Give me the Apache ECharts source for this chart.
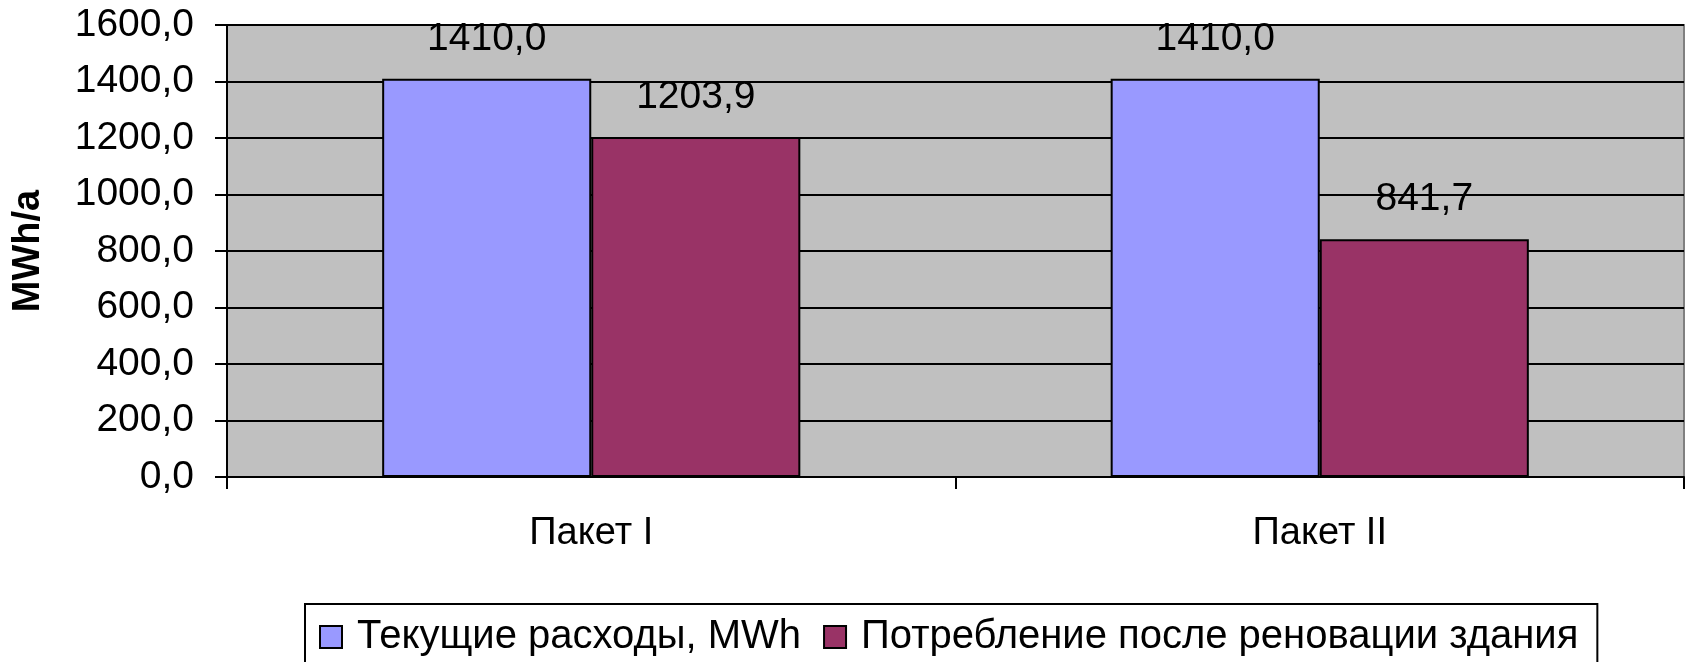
<!DOCTYPE html>
<html>
<head>
<meta charset="utf-8">
<title>MWh/a</title>
<script src="https://cdn.jsdelivr.net/npm/echarts@6/dist/echarts.min.js"></script>
<style>
  html, body { margin: 0; padding: 0; background: #fff; }
  #chart { width: 1694px; height: 662px; }
</style>
</head>
<body>
<div id="chart"></div>
<script>
// Categories and series values
const categories = ['Пакет I', 'Пакет II'];
const currentUse = [1410.0, 1410.0];
const afterRenovation = [1203.9, 841.7];
const seriesNames = ['Текущие расходы, MWh', 'Потребление после реновации здания'];
const yAxisName = 'MWh/a';

const FONT = '"Liberation Sans", Arial, sans-serif';
const fmt = v => v.toFixed(1).replace('.', ',');

const chart = echarts.init(document.getElementById('chart'), null, { renderer: 'canvas' });

const barLabel = {
  show: true,
  position: 'top',
  distance: 20,
  color: '#000',
  fontFamily: FONT,
  fontSize: 39,
  formatter: p => fmt(p.value)
};

chart.setOption({
  animation: false,
  backgroundColor: '#ffffff',
  grid: {
    left: 227, right: 10, top: 25, bottom: 185,
    containLabel: false,
    outerBoundsMode: 'none',
    show: true,
    backgroundColor: '#C0C0C0',
    borderColor: '#808080',
    borderWidth: 2
  },
  legend: {
    data: seriesNames,
    left: 305,
    top: 604,
    padding: [13, 19, 30, 14],
    itemGap: 22,
    itemWidth: 22,
    itemHeight: 22,
    borderColor: '#000',
    borderWidth: 2,
    textStyle: { fontFamily: FONT, fontSize: 40, color: '#000', padding: [0, 0, 0, 10] },
    icon: 'rect'
  },
  xAxis: {
    type: 'category',
    data: categories,
    boundaryGap: true,
    axisLine: { show: true, lineStyle: { color: '#000', width: 2 } },
    axisTick: { show: true, length: 12, interval: 0, lineStyle: { color: '#000', width: 2 } },
    axisLabel: { color: '#000', fontFamily: FONT, fontSize: 38, margin: 38 },
    splitLine: { show: false }
  },
  yAxis: {
    type: 'value',
    min: 0, max: 1600, interval: 200,
    name: yAxisName,
    nameLocation: 'middle',
    nameRotate: 90,
    nameGap: 179,
    nameTextStyle: { fontFamily: FONT, fontSize: 38, fontWeight: 'bold', color: '#000' },
    axisLine: { show: true, lineStyle: { color: '#000', width: 2 } },
    axisTick: { show: true, inside: false, length: 12, lineStyle: { color: '#000', width: 2 } },
    axisLabel: { color: '#000', fontFamily: FONT, fontSize: 39, margin: 33, formatter: v => fmt(v) },
    splitLine: { show: true, lineStyle: { color: '#000', width: 2 } }
  },
  series: [
    {
      name: seriesNames[0],
      type: 'bar',
      data: currentUse,
      barGap: '0%',
      barCategoryGap: '42.6%',
      itemStyle: { color: '#9999FF', borderColor: '#000', borderWidth: 2 },
      label: barLabel
    },
    {
      name: seriesNames[1],
      type: 'bar',
      data: afterRenovation,
      itemStyle: { color: '#993366', borderColor: '#000', borderWidth: 2 },
      label: barLabel
    }
  ]
});
</script>
</body>
</html>
